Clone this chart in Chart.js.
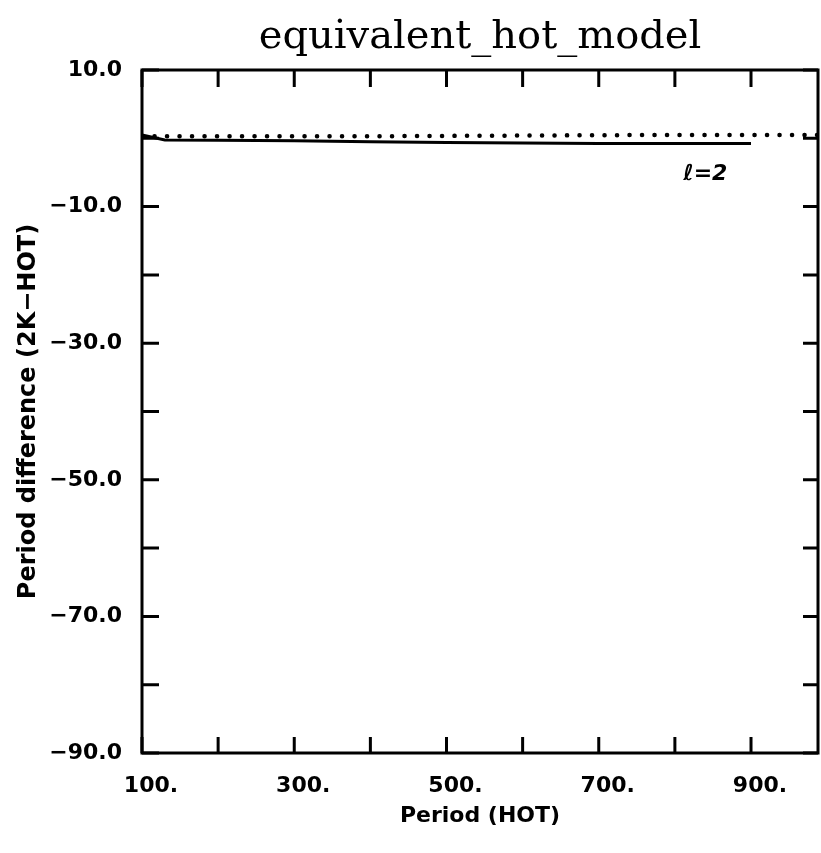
<!DOCTYPE html>
<html lang="en">
<head>
  <meta charset="UTF-8">
  <title>equivalent_hot_model</title>
  <script src="https://cdn.jsdelivr.net/npm/chart.js"></script>
  <style>
    html, body { margin: 0; padding: 0; background: #fff; }
    #wrap { width: 821px; height: 853px; }
  </style>
</head>
<body>
<div id="wrap"><canvas id="DiffChart"></canvas></div>
<script>
  // Values: period difference (2K-HOT) against period (HOT)
  const l2Periods = [100, 130, 200, 300, 400, 500, 600, 700, 800, 900];
  const l2Diff = [0.5, -0.25, -0.3, -0.35, -0.5, -0.6, -0.7, -0.75, -0.75, -0.75];
  const dottedPeriods = [100, 200, 300, 400, 500, 600, 700, 800, 900, 988];
  const dottedDiff = [0.3, 0.3, 0.3, 0.3, 0.35, 0.4, 0.45, 0.5, 0.5, 0.5];

  const xTicks = [100, 200, 300, 400, 500, 600, 700, 800, 900];
  const xLabels = ['100.', '', '300.', '', '500.', '', '700.', '', '900.'];
  const yTicks = [10, 0, -10, -20, -30, -40, -50, -60, -70, -80, -90];
  const yLabels = ['10.0', '', '\u221210.0', '', '\u221230.0', '', '\u221250.0', '', '\u221270.0', '', '\u221290.0'];

  const toPoints = (xs, ys) => xs.map((x, i) => ({ x: x, y: ys[i] }));

  // Frame with inward ticks on all four sides, the title over the plot box and the l=2 label
  const framePlugin = {
    id: 'frame',
    afterDraw(chart) {
      const ctx = chart.ctx;
      const a = chart.chartArea;
      const xs = chart.scales.x;
      const ys = chart.scales.y;
      ctx.save();
      ctx.strokeStyle = '#000';
      ctx.lineWidth = 3;
      ctx.strokeRect(a.left, a.top, a.right - a.left, a.bottom - a.top);
      ctx.beginPath();
      xTicks.forEach(v => {
        const px = xs.getPixelForValue(v);
        ctx.moveTo(px, a.bottom); ctx.lineTo(px, a.bottom - 16);
        ctx.moveTo(px, a.top); ctx.lineTo(px, a.top + 17);
      });
      yTicks.forEach(v => {
        const py = ys.getPixelForValue(v);
        ctx.moveTo(a.left, py); ctx.lineTo(a.left + 17, py);
        ctx.moveTo(a.right, py); ctx.lineTo(a.right - 15, py);
      });
      ctx.stroke();
      ctx.fillStyle = '#000';
      ctx.textAlign = 'center';
      ctx.textBaseline = 'middle';
      ctx.font = '40px "DejaVu Serif"';
      ctx.fillText('equivalent_hot_model', (a.left + a.right) / 2, 38);
      ctx.font = 'italic bold 22px "DejaVu Sans"';
      ctx.fillText('\u2113=2', xs.getPixelForValue(840), ys.getPixelForValue(-5.2));
      ctx.restore();
    }
  };

  new Chart(document.getElementById('DiffChart'), {
    type: 'scatter',
    data: {
      datasets: [
        {
          label: 'l=2',
          data: toPoints(l2Periods, l2Diff),
          showLine: true,
          borderColor: '#000',
          borderWidth: 3,
          pointRadius: 0,
          tension: 0
        },
        {
          label: 'dotted',
          data: toPoints(dottedPeriods, dottedDiff),
          showLine: true,
          borderColor: '#000',
          borderWidth: 4.5,
          borderDash: [0.1, 12.4],
          borderCapStyle: 'round',
          pointRadius: 0,
          tension: 0
        }
      ]
    },
    options: {
      responsive: true,
      maintainAspectRatio: false,
      animation: false,
      layout: { padding: { left: 0, right: 3, top: 70, bottom: 0 } },
      plugins: {
        legend: { display: false },
        tooltip: { enabled: false },
        title: { display: false }
      },
      scales: {
        x: {
          type: 'linear',
          min: 100,
          max: 988,
          afterBuildTicks: s => { s.ticks = xTicks.map(v => ({ value: v })); },
          afterFit: s => { s.height = 100; },
          grid: { display: false, drawTicks: false },
          border: { display: false },
          ticks: {
            color: '#000',
            padding: 20,
            labelOffset: 9,
            maxRotation: 0,
            autoSkip: false,
            font: { family: '"DejaVu Sans"', size: 22, weight: 'bold' },
            callback: (v, i) => xLabels[i]
          },
          title: {
            display: true,
            text: 'Period (HOT)',
            color: '#000',
            font: { family: '"DejaVu Sans"', size: 22, weight: 'bold' },
            padding: { top: 0, bottom: 24 }
          }
        },
        y: {
          type: 'linear',
          min: -90,
          max: 10,
          afterBuildTicks: s => { s.ticks = yTicks.map(v => ({ value: v })); },
          afterFit: s => { s.width = 142; },
          grid: { display: false, drawTicks: false },
          border: { display: false },
          ticks: {
            color: '#000',
            padding: 20,
            autoSkip: false,
            font: { family: '"DejaVu Sans"', size: 22, weight: 'bold' },
            callback: (v, i) => yLabels[i]
          },
          title: {
            display: true,
            text: 'Period difference (2K\u2212HOT)',
            color: '#000',
            font: { family: '"DejaVu Sans"', size: 24, weight: 'bold' },
            padding: { top: 14, bottom: 0 }
          }
        }
      }
    },
    plugins: [framePlugin]
  });
</script>
</body>
</html>
